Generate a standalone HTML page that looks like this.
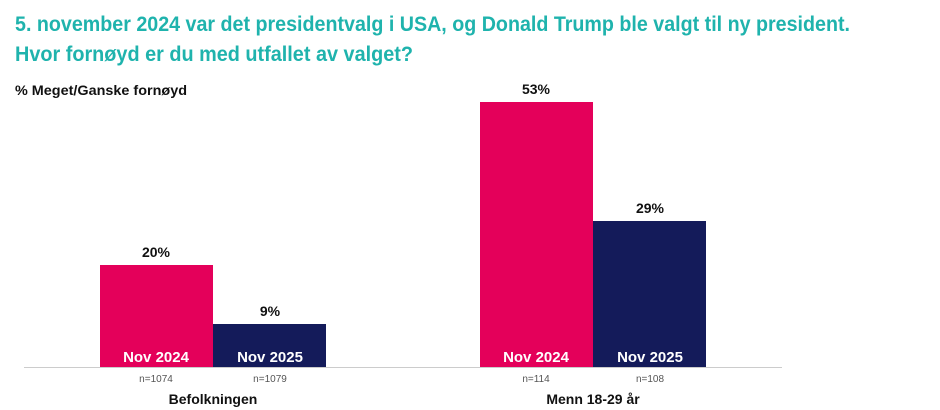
<!DOCTYPE html>
<html><head><meta charset="utf-8"><style>body{margin:0;background:#fff}svg{display:block}</style></head>
<body>
<svg width="940" height="410" xmlns="http://www.w3.org/2000/svg" font-family="Liberation Sans, sans-serif" font-weight="bold">
<text x="15" y="31" font-size="21" fill="#1fb3ad" textLength="835" lengthAdjust="spacingAndGlyphs">5. november 2024 var det presidentvalg i USA, og Donald Trump ble valgt til ny president.</text>
<text x="15" y="61" font-size="21" fill="#1fb3ad" textLength="398" lengthAdjust="spacingAndGlyphs">Hvor fornøyd er du med utfallet av valget?</text>
<text x="15" y="95" font-size="14" fill="#111" textLength="172" lengthAdjust="spacingAndGlyphs">% Meget/Ganske fornøyd</text>
<rect x="100" y="265" width="113" height="102" fill="#e4005a"/>
<rect x="213" y="324" width="113" height="43" fill="#141b5a"/>
<rect x="480" y="102" width="113" height="265" fill="#e4005a"/>
<rect x="593" y="221" width="113" height="146" fill="#141b5a"/>
<line x1="24" y1="367.5" x2="782" y2="367.5" stroke="#ccc" stroke-width="1"/>
<g font-size="14" fill="#111" text-anchor="middle">
<text x="156" y="257">20%</text><text x="270" y="316">9%</text>
<text x="536" y="94">53%</text><text x="650" y="213">29%</text>
<text x="213" y="404">Befolkningen</text><text x="593" y="404">Menn 18-29 år</text>
</g>
<g font-size="15" fill="#fff" text-anchor="middle">
<text x="156" y="362">Nov 2024</text><text x="270" y="362">Nov 2025</text>
<text x="536" y="362">Nov 2024</text><text x="650" y="362">Nov 2025</text>
</g>
<g font-size="10" font-weight="normal" fill="#555" text-anchor="middle">
<text x="156" y="382">n=1074</text><text x="270" y="382">n=1079</text>
<text x="536" y="382">n=114</text><text x="650" y="382">n=108</text>
</g>
</svg>
</body></html>
